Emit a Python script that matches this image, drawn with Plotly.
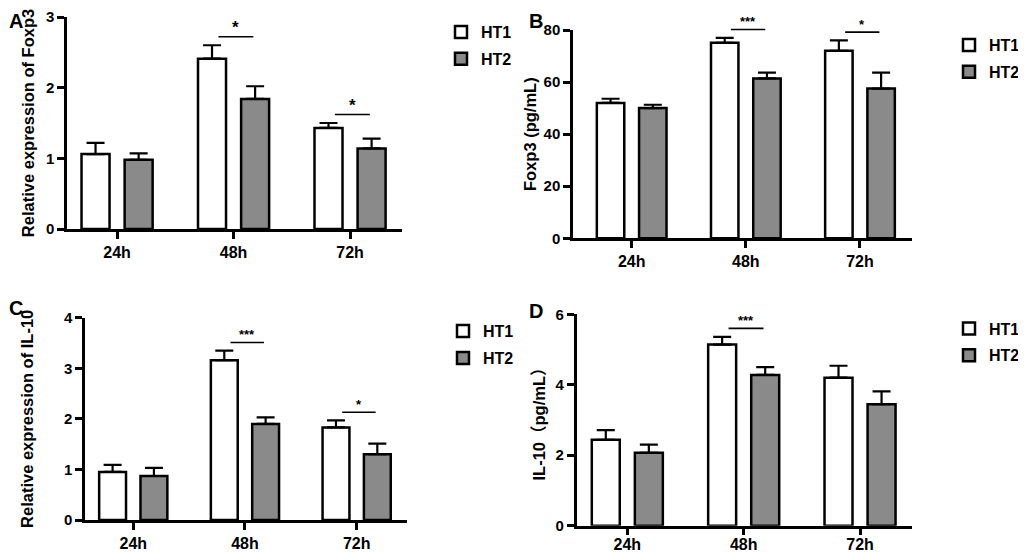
import plotly.graph_objects as go

# the page body has an 8px margin, so the figure is drawn 8px smaller
# and every reference pixel position is shifted by OFF
OFF = 8
W, H = 1026 - OFF, 553 - OFF

times = ["24h", "48h", "72h"]
groups = ["HT1", "HT2"]

# panel A: relative expression of Foxp3
foxp3_rel_ht1 = [1.06, 2.41, 1.43]
foxp3_rel_ht1_sd = [0.16, 0.19, 0.07]
foxp3_rel_ht2 = [0.98, 1.84, 1.14]
foxp3_rel_ht2_sd = [0.09, 0.18, 0.14]
foxp3_rel_sig = ["", "*", "*"]

# panel B: Foxp3 pg/mL
foxp3_conc_ht1 = [52.0, 75.1, 72.0]
foxp3_conc_ht1_sd = [1.6, 1.9, 4.0]
foxp3_conc_ht2 = [50.0, 61.4, 57.5]
foxp3_conc_ht2_sd = [1.3, 2.2, 6.1]
foxp3_conc_sig = ["", "***", "*"]

# panel C: relative expression of IL-10
il10_rel_ht1 = [0.95, 3.16, 1.83]
il10_rel_ht1_sd = [0.14, 0.19, 0.14]
il10_rel_ht2 = [0.87, 1.90, 1.30]
il10_rel_ht2_sd = [0.16, 0.13, 0.21]
il10_rel_sig = ["", "***", "*"]

# panel D: IL-10 pg/mL
il10_conc_ht1 = [2.44, 5.14, 4.20]
il10_conc_ht1_sd = [0.27, 0.22, 0.34]
il10_conc_ht2 = [2.07, 4.28, 3.45]
il10_conc_ht2_sd = [0.23, 0.22, 0.36]
il10_conc_sig = ["", "***", ""]

FONT = "Liberation Sans, Arial, Noto Sans CJK SC, sans-serif"
colors = ["white", "#8a8a8a"]


def px_x(p):
    return (p - OFF) / W


def px_y(p):
    return 1 - (p - OFF) / H


panels = [
    dict(letter="A", title="Relative expression of Foxp3",
         ht1=foxp3_rel_ht1, ht1_sd=foxp3_rel_ht1_sd,
         ht2=foxp3_rel_ht2, ht2_sd=foxp3_rel_ht2_sd, sig=foxp3_rel_sig,
         ymax=3, dtick=1, xdom=(67, 402), ydom=(17, 229), xr=(-0.43, 2.446),
         standoff=8, letter_pos=(16, 8), legend_pos=(441, 45.5), star_size=17, lab_shift=0),
    dict(letter="B", title="Foxp3 (pg/mL)",
         ht1=foxp3_conc_ht1, ht1_sd=foxp3_conc_ht1_sd,
         ht2=foxp3_conc_ht2, ht2_sd=foxp3_conc_ht2_sd, sig=foxp3_conc_sig,
         ymax=80, dtick=20, xdom=(573, 911.7), ydom=(30, 238.3), xr=(-0.514, 2.453),
         standoff=3, letter_pos=(536, 8), legend_pos=(949, 58.5), star_size=13, lab_shift=0),
    dict(letter="C", title="Relative expression of IL-10",
         ht1=il10_rel_ht1, ht1_sd=il10_rel_ht1_sd,
         ht2=il10_rel_ht2, ht2_sd=il10_rel_ht2_sd, sig=il10_rel_sig,
         ymax=4, dtick=1, xdom=(85, 406.7), ydom=(317.7, 520), xr=(-0.432, 2.448),
         standoff=27, letter_pos=(16, 295), legend_pos=(443, 344.7), star_size=13, lab_shift=0),
    dict(letter="D", title="IL-10（pg/mL）",
         ht1=il10_conc_ht1, ht1_sd=il10_conc_ht1_sd,
         ht2=il10_conc_ht2, ht2_sd=il10_conc_ht2_sd, sig=il10_conc_sig,
         ymax=6, dtick=2, xdom=(576.7, 911.7), ydom=(314.3, 525.7), xr=(-0.435, 2.444),
         standoff=6, letter_pos=(536, 298), legend_pos=(949, 342), star_size=13, lab_shift=-5),
]

fig = go.Figure()
layout = {}
annotations = []
shapes = []

for i, p in enumerate(panels):
    n = "" if i == 0 else str(i + 1)
    xa, ya = "x" + n, "y" + n
    leg = "legend" + n
    xs = list(range(len(times)))
    for g, (vals, sd) in enumerate([(p["ht1"], p["ht1_sd"]), (p["ht2"], p["ht2_sd"])]):
        fig.add_trace(go.Bar(
            x=xs, y=vals, name=groups[g], xaxis=xa, yaxis=ya,
            legend=leg, legendgroup=f"p{i}g{g}",
            marker=dict(color=colors[g], line=dict(color="black", width=2.5)),
            error_y=dict(type="data", array=sd, arrayminus=[0] * len(sd), symmetric=False,
                         color="black", thickness=2.2, width=9),
        ))

    layout["xaxis" + n] = dict(
        domain=[px_x(p["xdom"][0]), px_x(p["xdom"][1])], anchor=ya,
        range=list(p["xr"]), tickvals=xs, ticktext=times,
        showline=True, linecolor="black", linewidth=2.5,
        ticks="outside", ticklen=7, tickwidth=2.5, tickcolor="black",
        ticklabelstandoff=p["lab_shift"],
        showgrid=False, zeroline=False, automargin=False,
        tickfont=dict(size=16, color="black"),
    )
    layout["yaxis" + n] = dict(
        domain=[px_y(p["ydom"][1]), px_y(p["ydom"][0])], anchor=xa,
        range=[0, p["ymax"]], dtick=p["dtick"],
        showline=True, linecolor="black", linewidth=2.5,
        ticks="outside", ticklen=7, tickwidth=2.5, tickcolor="black",
        showgrid=False, zeroline=False, automargin=False,
        tickfont=dict(size=15, color="black"),
        title=dict(text=p["title"], font=dict(size=16.5, color="black"), standoff=p["standoff"]),
    )
    layout[leg] = dict(
        x=px_x(p["legend_pos"][0]), y=px_y(p["legend_pos"][1]),
        xanchor="left", yanchor="middle",
        font=dict(size=16, color="black"), bgcolor="rgba(0,0,0,0)",
        tracegroupgap=3,
    )

    annotations.append(dict(
        text=p["letter"], xref="paper", yref="paper",
        x=px_x(p["letter_pos"][0]), y=px_y(p["letter_pos"][1]),
        xanchor="center", yanchor="top", showarrow=False,
        font=dict(size=20, color="black"),
    ))

    # significance bars between HT1 and HT2
    for k, s in enumerate(p["sig"]):
        if not s:
            continue
        top = max(p["ht1"][k] + p["ht1_sd"][k], p["ht2"][k] + p["ht2_sd"][k])
        yl = (top + 0.04 * p["ymax"]) / p["ymax"]
        shapes.append(dict(type="line", xref=xa, yref=ya + " domain", x0=k - 0.13, x1=k + 0.17,
                           y0=yl, y1=yl, line=dict(color="black", width=1.6)))
        annotations.append(dict(
            text=s, xref=xa, yref=ya + " domain", x=k + 0.02, y=yl,
            xanchor="center", yanchor="bottom", showarrow=False, yshift=-2,
            font=dict(size=p["star_size"], color="black"),
        ))

fig.update_layout(
    width=W, height=H,
    margin=dict(l=0, r=0, t=0, b=0, autoexpand=False),
    paper_bgcolor="white", plot_bgcolor="white",
    font=dict(family=FONT, weight="bold", color="black"),
    barmode="group", bargap=0.26, bargroupgap=0.35,
    annotations=annotations, shapes=shapes,
    **layout,
)

fig.write_html("out.html")
